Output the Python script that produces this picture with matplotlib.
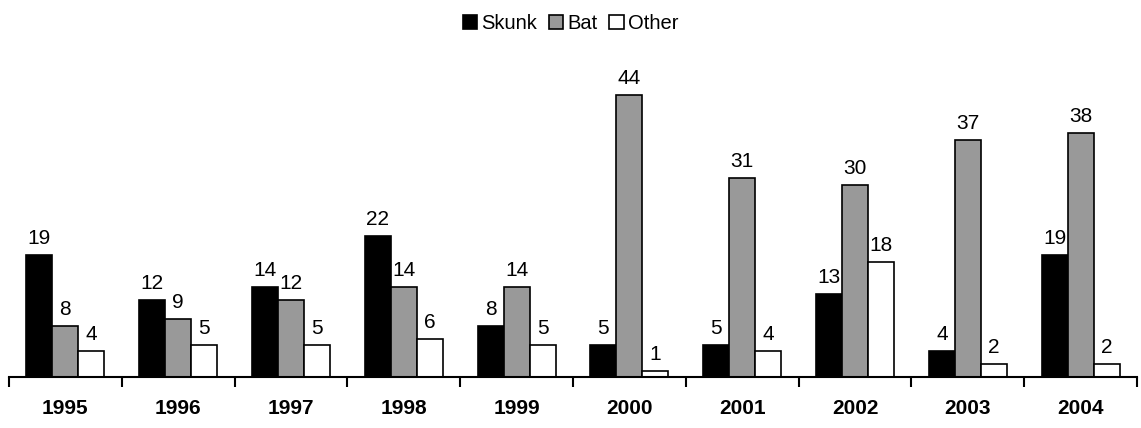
import matplotlib
matplotlib.use("Agg")
import matplotlib.pyplot as plt
import numpy as np

years = ["1995", "1996", "1997", "1998", "1999", "2000", "2001", "2002", "2003", "2004"]
skunk = [19, 12, 14, 22, 8, 5, 5, 13, 4, 19]
bat = [8, 9, 12, 14, 14, 44, 31, 30, 37, 38]
other = [4, 5, 5, 6, 5, 1, 4, 18, 2, 2]

plt.rcParams['font.family'] = ['Liberation Sans', 'DejaVu Sans']

fig = plt.figure(figsize=(11.41, 4.28), dpi=100)
ax = fig.add_axes([9/1141, (428-377)/428, (1137-9)/1141, (377-56.5)/428])

x = np.arange(len(years))
w = 0.23
series = [(skunk, "#000000", "Skunk"), (bat, "#999999", "Bat"), (other, "#ffffff", "Other")]
for i, (vals, col, lab) in enumerate(series):
    pos = x + (i - 1) * w
    bars = ax.bar(pos, vals, width=w, color=col, edgecolor="black", linewidth=1.2, label=lab)
    for p, v in zip(pos, vals):
        ax.annotate(str(v), (p, v), xytext=(0, 5), textcoords="offset points",
                    ha="center", va="bottom", fontsize=15)

ax.set_xlim(-0.5, len(years) - 0.5)
ax.set_ylim(0, 50)
ax.set_yticks([])
for s in ["left", "right", "top"]:
    ax.spines[s].set_visible(False)
ax.spines["bottom"].set_linewidth(1.5)
ax.set_xticks(x)
ax.set_xticklabels(years, fontsize=15, fontweight="bold")
ax.tick_params(axis="x", which="major", length=0, pad=16)
ax.set_xticks(np.arange(len(years) + 1) - 0.5, minor=True)
ax.tick_params(axis="x", which="minor", length=7, width=1.5, direction="out")

fig.legend(loc="upper center", bbox_to_anchor=(0.5, 1.0), ncol=3, frameon=False,
           fontsize=14.5, handlelength=0.7, handleheight=0.7, handletextpad=0.2,
           columnspacing=0.6, borderaxespad=0.3)

fig.savefig("out.png", dpi=100)
